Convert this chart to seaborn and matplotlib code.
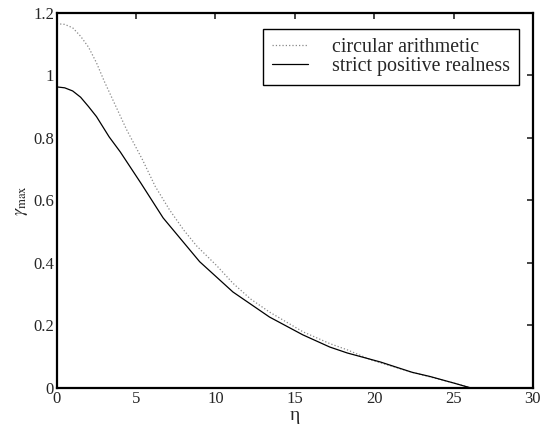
import matplotlib
matplotlib.use("Agg")
import matplotlib.pyplot as plt
import seaborn as sns
import pandas as pd

# values
eta_circ = [0, 0.5, 1.0, 1.5, 2.0, 2.5, 3.0, 3.5, 4.4, 5.4, 6.2, 7.1, 8.0, 8.8, 9.4, 10.1, 11.1, 12.2, 13.4, 15.5, 17.2, 18.3, 19.9, 22.4, 25.0, 26.1]
gam_circ = [1.165, 1.163, 1.152, 1.125, 1.09, 1.04, 0.98, 0.925, 0.826, 0.73, 0.645, 0.57, 0.505, 0.455, 0.425, 0.39, 0.335, 0.285, 0.243, 0.18, 0.142, 0.122, 0.088, 0.05, 0.016, 0.0]

eta_spr = [0, 0.5, 1.0, 1.5, 2.0, 2.5, 3.3, 4.0, 5.3, 6.7, 9.0, 11.1, 13.4, 15.5, 17.2, 18.3, 20.4, 22.4, 23.5, 25.0, 26.1]
gam_spr = [0.963, 0.960, 0.950, 0.93, 0.90, 0.868, 0.803, 0.755, 0.655, 0.544, 0.404, 0.307, 0.227, 0.17, 0.131, 0.112, 0.083, 0.05, 0.037, 0.016, 0.0]

sns.set_style("white")
plt.rcParams['font.family'] = ['Liberation Serif', 'DejaVu Serif']
plt.rcParams['mathtext.fontset'] = 'stix'

df_c = pd.DataFrame({'eta': eta_circ, 'gamma': gam_circ})
df_s = pd.DataFrame({'eta': eta_spr, 'gamma': gam_spr})

fig = plt.figure(figsize=(5.41, 4.28), dpi=100)
ax = fig.add_axes([0.105, 0.0935, 0.88, 0.8766])

sns.lineplot(data=df_c, x='eta', y='gamma', ax=ax, color='#888888', linestyle=':', linewidth=0.9,
             label='circular arithmetic', sort=False)
sns.lineplot(data=df_s, x='eta', y='gamma', ax=ax, color='black', linestyle='-', linewidth=0.9,
             label='strict positive realness', sort=False)

ax.set_xlim(0, 30)
ax.set_ylim(0, 1.2)
ax.set_xticks([0, 5, 10, 15, 20, 25, 30])
ax.set_yticks([0, 0.2, 0.4, 0.6, 0.8, 1.0, 1.2])
ax.set_yticklabels(['0', '0.2', '0.4', '0.6', '0.8', '1', '1.2'])
ax.tick_params(direction='in', length=4, width=1.2, top=True, right=True, labelsize=12, pad=2)
for s in ax.spines.values():
    s.set_linewidth(1.6)
    s.set_color('black')

ax.set_xlabel('η', fontsize=14, labelpad=0)
ax.set_ylabel(r'$\gamma_{\mathrm{max}}$', fontsize=13, labelpad=2)

leg = ax.legend(loc='upper right', bbox_to_anchor=(0.97, 0.957), fontsize=14.4, frameon=True,
                fancybox=False, edgecolor='black', framealpha=1, borderpad=0.45,
                handlelength=1.8, handletextpad=1.2, labelspacing=0.0, borderaxespad=0)
leg.get_frame().set_linewidth(1.0)

fig.savefig('out.png', dpi=100)
